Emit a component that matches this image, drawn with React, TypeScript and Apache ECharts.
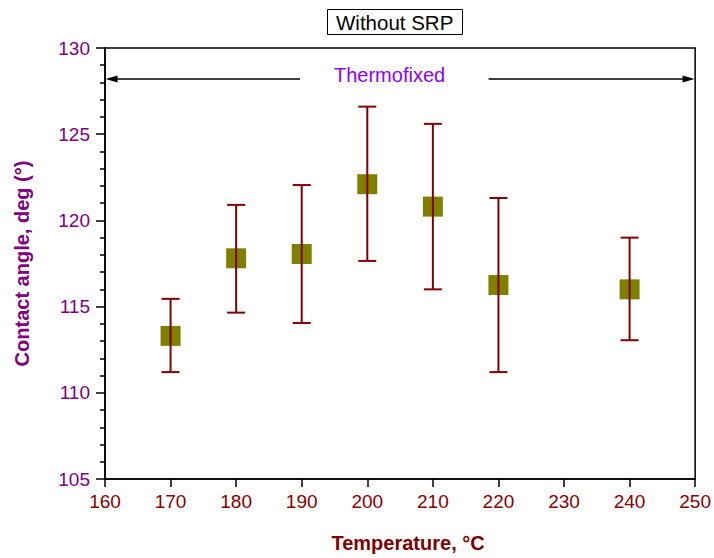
import React, { useEffect, useRef } from "react";
import * as echarts from "echarts";

const temps = [170, 180, 190, 200, 210, 220, 240];
const angles = [113.3, 117.8, 118.05, 122.1, 120.8, 116.25, 116.0];
const upper = [115.45, 120.9, 122.05, 126.6, 125.6, 121.3, 119.0];
const lower = [111.2, 114.65, 114.05, 117.65, 116.0, 111.2, 113.05];

const arrowY = 128.2;
const leftArrow = [161, 189.75];
const rightArrow = [218.5, 249];

const FONT = "'Liberation Sans', Arial, Helvetica, sans-serif";

export default function App() {
  const ref = useRef<HTMLDivElement>(null);
  useEffect(() => {
    if (!ref.current) return;
    const chart = echarts.init(ref.current, null, { renderer: "svg" });
    const errData = temps.map((t, i) => [t, lower[i], upper[i]]);
    const ptData = temps.map((t, i) => [t, angles[i]]);
    chart.setOption({
      animation: false,
      backgroundColor: "#fff",
      textStyle: { fontFamily: FONT },
      title: {
        text: "Without SRP",
        left: 327,
        top: 9,
        borderColor: "#000",
        borderWidth: 1,
        padding: [2, 9],
        textStyle: { fontSize: 20.5, fontWeight: "normal", color: "#000", fontFamily: FONT, lineHeight: 22 },
      },
      grid: {
        left: 105,
        right: 17,
        top: 48,
        bottom: 73.5,
        show: true,
        borderColor: "#000",
        borderWidth: 1.5,
        backgroundColor: "transparent",
      },
      xAxis: {
        type: "value",
        min: 160,
        max: 250,
        interval: 10,
        name: "Temperature, °C",
        nameLocation: "middle",
        nameGap: 54,
        nameTextStyle: { color: "#800000", fontSize: 20, fontWeight: "bold", fontFamily: FONT, padding: [0, 0, 0, 16] },
        axisLine: { show: true, onZero: false, lineStyle: { color: "#000", width: 1.5 } },
        axisTick: { show: true, inside: false, length: 8, lineStyle: { color: "#000", width: 1.5 } },
        axisLabel: { color: "#8B0000", fontSize: 19, fontFamily: FONT, margin: 13 },
        splitLine: { show: false },
      },
      yAxis: {
        type: "value",
        min: 105,
        max: 130,
        interval: 5,
        name: "Contact angle, deg (°)",
        nameLocation: "middle",
        nameGap: 73,
        nameRotate: 90,
        nameTextStyle: { color: "#800080", fontSize: 20, fontWeight: "bold", fontFamily: FONT },
        axisLine: { show: true, onZero: false, lineStyle: { color: "#000", width: 1.5 } },
        axisTick: { show: true, inside: false, length: 9, lineStyle: { color: "#000", width: 1.5 } },
        minorTick: { show: true, splitNumber: 5, length: 5, lineStyle: { color: "#000", width: 1.5 } },
        axisLabel: { color: "#800080", fontSize: 19, fontFamily: FONT, margin: 15 },
        splitLine: { show: false },
        minorSplitLine: { show: false },
      },
      graphic: [
        {
          type: "text",
          left: 334,
          top: 65,
          style: { text: "Thermofixed", fill: "#8F00FF", font: `20px ${FONT}` },
        },
      ],
      series: [
        {
          type: "scatter",
          data: ptData,
          symbol: "rect",
          symbolSize: 20,
          itemStyle: { color: "#808000", opacity: 1 },
          z: 2,
          markLine: {
            silent: true,
            animation: false,
            label: { show: false },
            lineStyle: { color: "#000", width: 1.5, type: "solid" },
            symbolSize: [7, 12],
            data: [
              [
                { coord: [leftArrow[0], arrowY], symbol: "triangle" },
                { coord: [leftArrow[1], arrowY], symbol: "none" },
              ],
              [
                { coord: [rightArrow[0], arrowY], symbol: "none" },
                { coord: [rightArrow[1], arrowY], symbol: "triangle" },
              ],
            ],
          },
        },
        {
          type: "custom",
          data: errData,
          z: 3,
          renderItem: (params: any, api: any) => {
            const x = api.value(0);
            const lo = api.value(1);
            const hi = api.value(2);
            const top = api.coord([x, hi]);
            const bot = api.coord([x, lo]);
            const w = 9;
            const style = { stroke: "#800000", lineWidth: 2 };
            return {
              type: "group",
              children: [
                { type: "line", shape: { x1: top[0], y1: top[1], x2: bot[0], y2: bot[1] }, style },
                { type: "line", shape: { x1: top[0] - w, y1: top[1], x2: top[0] + w, y2: top[1] }, style },
                { type: "line", shape: { x1: bot[0] - w, y1: bot[1], x2: bot[0] + w, y2: bot[1] }, style },
              ],
            };
          },
        },
      ],
    });
    return () => chart.dispose();
  }, []);
  return (
    <div
      ref={ref}
      style={{ position: "fixed", left: 0, top: 0, width: 714, height: 558, background: "#fff" }}
    />
  );
}
